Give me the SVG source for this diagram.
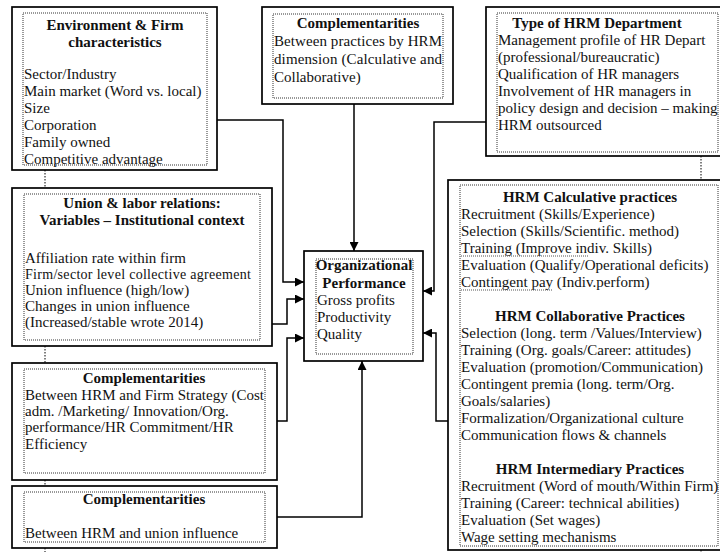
<svg xmlns="http://www.w3.org/2000/svg" width="720" height="552" viewBox="0 0 720 552">
  <defs>
    <marker id="arrow" markerUnits="userSpaceOnUse" markerWidth="9" markerHeight="9" refX="9" refY="4.5" orient="auto">
      <path d="M0,0 L9,4.5 L0,9 z" fill="#000"/>
    </marker>
    <style>
      .box { fill: #fff; stroke: #000; stroke-width: 1.7; }
      .inner { fill: none; stroke: #333; stroke-width: 1; stroke-dasharray: 1 1; }
      .t { font-family: "Liberation Serif", "Times New Roman", serif; font-size: 15px; fill: #111; }
      .b { font-weight: bold; }
      .c { text-anchor: middle; }
      .sm { font-size: 14px; }
      .wire { fill: none; stroke: #000; stroke-width: 1.5; }
      .dot { fill: none; stroke: #000; stroke-width: 1; stroke-dasharray: 1.5 1.5; }
      .squig { fill: none; stroke: #555; stroke-width: 1; stroke-dasharray: 1 1; }
    </style>
  </defs>
  <rect width="720" height="552" fill="#fff"/>

  <!-- connectors -->
  <g id="connectors">
    <path class="wire" d="M217,120 H283 V282 H304" marker-end="url(#arrow)"/>
    <path class="wire" d="M354,104 V251" marker-end="url(#arrow)"/>
    <path class="wire" d="M486,122 H434 V291 H423" marker-end="url(#arrow)"/>
    <path class="wire" d="M272,324 H287 V299 H304" marker-end="url(#arrow)"/>
    <path class="wire" d="M277,421 H287 V338 H304" marker-end="url(#arrow)"/>
    <path class="wire" d="M277,517 H362 V361" marker-end="url(#arrow)"/>
    <path class="wire" d="M448,421 H436 V333 H423" marker-end="url(#arrow)"/>
    <path class="dot" d="M45,170 V188 M45,346 V363 M45,480 V486 M45,548 V552 M701,156 V180 M701,550 V552"/>
  </g>

  <!-- Environment & Firm characteristics -->
  <g id="env">
    <rect class="box" x="12" y="7" width="205" height="163"/>
    <rect class="inner" x="23" y="13" width="184" height="152"/>
    <text class="t b c" x="115" y="30">Environment &amp; Firm</text>
    <text class="t b c" x="115" y="47">characteristics</text>
    <text class="t" x="24" y="79">Sector/Industry</text>
    <text class="t" x="24" y="96">Main market (Word vs. local)</text>
    <text class="t" x="24" y="113">Size</text>
    <text class="t" x="24" y="130">Corporation</text>
    <text class="t" x="24" y="147">Family owned</text>
    <text class="t" x="24" y="164">Competitive advantage</text>
  </g>

  <!-- Complementarities between practices -->
  <g id="comp-practices">
    <rect class="box" x="262" y="7" width="191" height="97"/>
    <rect class="inner" x="273" y="14" width="170" height="84"/>
    <text class="t b c" x="358" y="28">Complementarities</text>
    <text class="t" x="274" y="46" textLength="168" lengthAdjust="spacing">Between practices by HRM</text>
    <text class="t" x="274" y="64" textLength="168" lengthAdjust="spacing">dimension (Calculative and</text>
    <text class="t" x="274" y="82">Collaborative)</text>
  </g>

  <!-- Type of HRM Department -->
  <g id="hrm-type">
    <rect class="box" x="486" y="7" width="240" height="149"/>
    <rect class="inner" x="497" y="13" width="221" height="139"/>
    <text class="t b c" x="597" y="28">Type of HRM Department</text>
    <text class="t" x="498" y="45">Management profile of HR Depart</text>
    <text class="t" x="498" y="62">(professional/bureaucratic)</text>
    <text class="t" x="498" y="79">Qualification  of HR managers</text>
    <text class="t" x="498" y="96">Involvement of HR managers  in</text>
    <text class="t" x="498" y="113">policy design and decision – making</text>
    <text class="t" x="498" y="130">HRM outsourced</text>
  </g>

  <!-- Union & labor relations -->
  <g id="union">
    <rect class="box" x="12" y="188" width="260" height="158"/>
    <rect class="inner" x="24" y="194" width="236" height="146"/>
    <text class="t b c" x="142" y="208">Union &amp; labor relations:</text>
    <text class="t b c" x="142" y="225">Variables – Institutional context</text>
    <text class="t" x="25" y="263">Affiliation rate within firm</text>
    <text class="t sm" x="25" y="279" textLength="226" lengthAdjust="spacing">Firm/sector level collective  agreement</text>
    <text class="t" x="25" y="295">Union influence (high/low)</text>
    <text class="t" x="25" y="311">Changes in union influence</text>
    <text class="t" x="25" y="327">(Increased/stable wrote 2014)</text>
  </g>

  <!-- Organizational Performance -->
  <g id="performance">
    <rect class="box" x="304" y="251" width="119" height="110"/>
    <rect class="inner" x="316" y="259" width="97" height="95"/>
    <text class="t b c" x="364" y="270">Organizational</text>
    <text class="t b c" x="364" y="288">Performance</text>
    <text class="t" x="317" y="305">Gross profits</text>
    <text class="t" x="317" y="322">Productivity</text>
    <text class="t" x="317" y="339">Quality</text>
  </g>

  <!-- HRM practices -->
  <g id="hrm-practices">
    <rect class="box" x="448" y="180" width="280" height="370"/>
    <rect class="inner" x="460" y="185" width="258" height="361"/>
    <text class="t b c" x="590" y="202">HRM Calculative practices</text>
    <text class="t" x="461" y="219">Recruitment  (Skills/Experience)</text>
    <text class="t" x="461" y="236">Selection (Skills/Scientific.  method)</text>
    <text class="t" x="461" y="253">Training (Improve indiv. Skills)</text>
    <path class="squig" d="M461,256 H588"/>
    <text class="t" x="461" y="270">Evaluation  (Qualify/Operational  deficits)</text>
    <text class="t" x="461" y="287">Contingent pay (Indiv.perform)</text>
    <path class="squig" d="M461,290 H553"/>
    <text class="t b c" x="590" y="321">HRM Collaborative Practices</text>
    <text class="t" x="461" y="338">Selection (long. term /Values/Interview)</text>
    <text class="t" x="461" y="355">Training (Org. goals/Career: attitudes)</text>
    <text class="t" x="461" y="372">Evaluation  (promotion/Communication)</text>
    <text class="t" x="461" y="389">Contingent premia (long. term/Org.</text>
    <text class="t" x="461" y="406">Goals/salaries)</text>
    <text class="t" x="461" y="423">Formalization/Organizational  culture</text>
    <text class="t" x="461" y="440">Communication  flows &amp; channels</text>
    <text class="t b c" x="590" y="474">HRM Intermediary Practices</text>
    <text class="t" x="461" y="491">Recruitment  (Word of mouth/Within Firm)</text>
    <text class="t" x="461" y="508">Training  (Career: technical abilities)</text>
    <text class="t" x="461" y="525">Evaluation  (Set wages)</text>
    <text class="t" x="461" y="542">Wage setting mechanisms</text>
  </g>

  <!-- Complementarities with firm strategy -->
  <g id="comp-strategy">
    <rect class="box" x="12" y="363" width="265" height="117"/>
    <rect class="inner" x="24" y="369" width="241" height="104"/>
    <text class="t b c" x="144" y="383">Complementarities</text>
    <text class="t" x="25" y="400" textLength="239" lengthAdjust="spacing">Between HRM and Firm Strategy (Cost</text>
    <text class="t" x="25" y="416">adm. /Marketing/ Innovation/Org.</text>
    <text class="t" x="25" y="432">performance/HR Commitment/HR</text>
    <text class="t" x="25" y="449">Efficiency</text>
  </g>

  <!-- Complementarities with union influence -->
  <g id="comp-union">
    <rect class="box" x="12" y="486" width="265" height="62"/>
    <rect class="inner" x="24" y="492" width="241" height="50"/>
    <text class="t b c" x="144" y="504">Complementarities</text>
    <text class="t" x="25" y="538">Between HRM and union influence</text>
  </g>
</svg>
